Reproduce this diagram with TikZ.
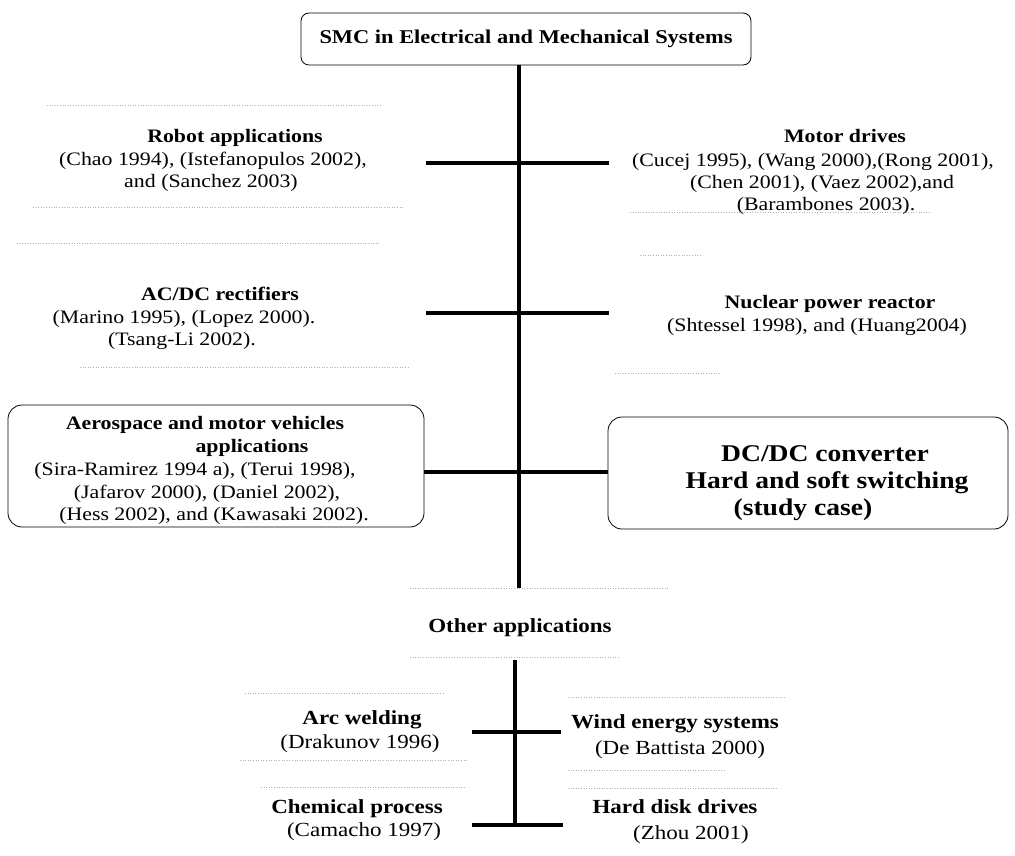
\documentclass[tikz,border=0pt]{standalone}
\usepackage{fontspec}
\setmainfont{Liberation Serif}[FakeStretch=1.15]
\begin{document}
\begin{tikzpicture}[x=1pt,y=-1pt,
  trunk/.style={line width=3.5pt},
  hbar/.style={line width=4.5pt},
  frame/.style={draw, rounded corners=12pt, line width=0.8pt},
  ttl/.style={font=\fontsize{19}{22}\selectfont\bfseries, inner sep=0pt, anchor=base},
  cit/.style={font=\fontsize{19}{22}\selectfont, inner sep=0pt, anchor=base},
  lttl/.style={font=\fontsize{20}{23}\selectfont\bfseries, inner sep=0pt, anchor=base},
  lcit/.style={font=\fontsize{20}{23}\selectfont, inner sep=0pt, anchor=base},
  big/.style={font=\fontsize{24}{27}\selectfont\bfseries, inner sep=0pt, anchor=base},
  faint/.style={draw=black!30, dotted, line width=0.6pt}]
\useasboundingbox (0,0) rectangle (1015,856);

% faint scan traces
\draw[faint] (47,105) -- (380,105);
\draw[faint] (33,207) -- (403,207);
\draw[faint] (17,243) -- (380,243);
\draw[faint] (80,367) -- (410,367);
\draw[faint] (630,212) -- (930,212);
\draw[faint] (640,255) -- (700,255);
\draw[faint] (615,373) -- (720,373);
\draw[faint] (410,588) -- (670,588);
\draw[faint] (410,657) -- (620,657);
\draw[faint] (245,693) -- (445,693);
\draw[faint] (240,760) -- (468,760);
\draw[faint] (261,787) -- (464,787);
\draw[faint] (568,697) -- (786,697);
\draw[faint] (568,770) -- (725,770);
\draw[faint] (568,788) -- (778,788);

% top box
\node[frame, rounded corners=8pt, minimum width=450pt, minimum height=52pt] (top) at (526,39) {};
\node[font=\fontsize{19.5}{22}\selectfont\bfseries, inner sep=0pt] (toptxt) at (526,39) {SMC in Electrical and Mechanical Systems};

% junctions
\coordinate (j1) at (519,163);
\coordinate (j2) at (519,313);
\coordinate (j3) at (519,472);
\coordinate (mainend) at (519,588);
\coordinate (b1l) at (426,163);
\coordinate (b1r) at (609,163);
\coordinate (b2l) at (426,313);
\coordinate (b2r) at (609,313);

% framed boxes
\node[frame, rounded corners=14pt, minimum width=416pt, minimum height=122pt] (aero) at (216,466) {};
\node[frame, rounded corners=14pt, minimum width=400pt, minimum height=112pt] (dcdc) at (808,473) {};

\draw[trunk] (top.south -| j1) -- (mainend);
\draw[hbar] (b1l) -- (b1r);
\draw[hbar] (b2l) -- (b2r);
\draw[hbar] (aero.east |- j3) -- (dcdc.west |- j3);

% Robot
\node[ttl] (robt) at (235,143) {Robot applications};
\node[cit] (robc1) at (213,166) {(Chao 1994), (Istefanopulos 2002),};
\node[cit] (robc2) at (211,188) {and (Sanchez 2003)};
% Motor
\node[ttl] (mott) at (845,143) {Motor drives};
\node[cit] (motc1) at (813,167) {(Cucej 1995), (Wang 2000),(Rong 2001),};
\node[cit] (motc2) at (822,189) {(Chen 2001), (Vaez 2002),and};
\node[cit] (motc3) at (826,211) {(Barambones 2003).};
% AC/DC
\node[ttl] (act) at (220,300) {AC/DC rectifiers};
\node[cit] (acc1) at (184,323) {(Marino 1995), (Lopez 2000).};
\node[cit] (acc2) at (182,345) {(Tsang-Li 2002).};
% Nuclear
\node[ttl] (nuct) at (830,308) {Nuclear power reactor};
\node[cit] (nucc1) at (817,331) {(Shtessel 1998), and (Huang2004)};
% Aerospace
\node[ttl] (aet1) at (205,429) {Aerospace and motor vehicles};
\node[ttl] (aet2) at (252,452) {applications};
\node[cit] (aec1) at (195,475) {(Sira-Ramirez 1994 a), (Terui 1998),};
\node[cit] (aec2) at (207,498) {(Jafarov 2000), (Daniel 2002),};
\node[cit] (aec3) at (214,520) {(Hess 2002), and (Kawasaki 2002).};
% DC/DC
\node[big] (dc1) at (825,461) {DC/DC converter};
\node[big] (dc2) at (827,488) {Hard and soft switching};
\node[big] (dc3) at (803,515) {(study case)};

% Other applications
\node[lttl] (other) at (520,632) {Other applications};
\coordinate (lowtop) at (515,660);
\coordinate (j4) at (515,732);
\coordinate (lowend) at (515,826);
\coordinate (b4l) at (472,732);
\coordinate (b4r) at (561,732);
\coordinate (b5l) at (472,825);
\coordinate (b5r) at (563,825);
\draw[trunk] (lowtop) -- (lowend);
\draw[hbar] (b4l) -- (b4r);
\draw[hbar] (b5l) -- (b5r);

\node[lttl] (arct) at (362,724) {Arc welding};
\node[lcit] (arcc) at (360,748) {(Drakunov 1996)};
\node[lttl] (windt) at (675,728) {Wind energy systems};
\node[lcit] (windc) at (680,754) {(De Battista 2000)};
\node[lttl] (chemt) at (357,813) {Chemical process};
\node[lcit] (chemc) at (364,836) {(Camacho 1997)};
\node[lttl] (hddt) at (675,813) {Hard disk drives};
\node[lcit] (hddc) at (691,839) {(Zhou 2001)};
\end{tikzpicture}
\end{document}
